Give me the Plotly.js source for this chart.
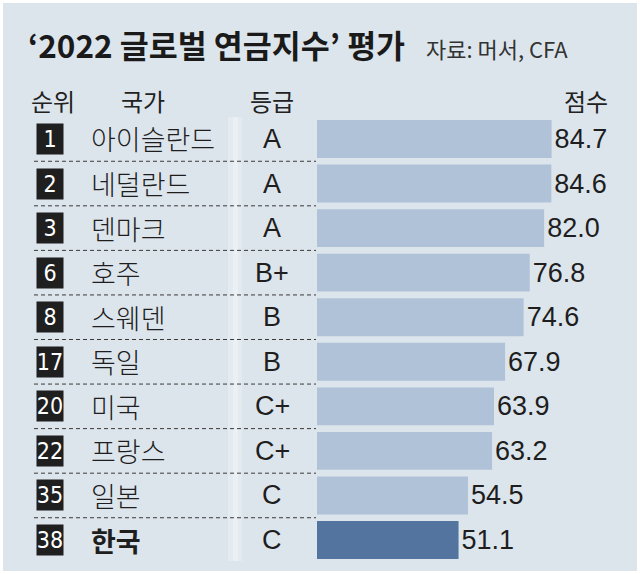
<!DOCTYPE html>
<html><head><meta charset="utf-8">
<script src="https://cdn.plot.ly/plotly-3.0.1.min.js"></script>
<style>html,body{margin:0;padding:0;background:#fff}#chart{width:640px;height:574px}</style>
</head><body><div id="chart"></div>
<script>
const ranks = ["1","2","3","6","8","17","20","22","35","38"];
const countries = ["아이슬란드","네덜란드","덴마크","호주","스웨덴","독일","미국","프랑스","일본","한국"];
const grades = ["A","A","A","B+","B","B","C+","C+","C","C"];
const scores = [84.7,84.6,82.0,76.8,74.6,67.9,63.9,63.2,54.5,51.1];
const highlight = "한국";

const W = 640, H = 574;
const px = v => v / W;
const py = v => 1 - v / H;
const KR = "'Noto Sans CJK KR', 'Noto Sans', sans-serif";
const LAT = "'Liberation Sans', Arial, sans-serif";
const COND = "'DejaVu Sans Condensed', 'Liberation Sans Narrow', 'Liberation Sans', sans-serif";

const barColors = countries.map(c => c === highlight ? "#52749f" : "#afc2d8");

const trace = {
  type: "bar", orientation: "h",
  x: scores, y: countries,
  marker: {color: barColors, line: {width: 0}},
  texttemplate: "%{x:.1f}", textposition: "outside",
  textfont: {family: LAT, size: 27, color: "#1e1e1e"},
  cliponaxis: false, hoverinfo: "none"
};

const shapes = [
  {type: "rect", xref: "paper", yref: "paper", x0: px(3), x1: px(637), y0: py(571), y1: py(3),
   fillcolor: "#dde5ec", line: {width: 0}, layer: "below"},
  {type: "rect", xref: "paper", yref: "paper", x0: px(228), x1: px(233), y0: py(561), y1: py(117),
   fillcolor: "#e4ebf1", line: {width: 0}, layer: "below"},
  {type: "rect", xref: "paper", yref: "paper", x0: px(233), x1: px(238), y0: py(561), y1: py(117),
   fillcolor: "#eaf0f4", line: {width: 0}, layer: "below"},
  {type: "rect", xref: "paper", yref: "paper", x0: px(238), x1: px(242), y0: py(561), y1: py(117),
   fillcolor: "#e3eaf0", line: {width: 0}, layer: "below"}
];
for (let i = 0; i < countries.length - 1; i++) {
  shapes.push({type: "line", xref: "paper", yref: "y", x0: px(34), x1: px(316), y0: i + 0.5, y1: i + 0.5,
    line: {color: "#3a3a3a", width: 1, dash: "4px,3px"}});
}

const annotations = [
  {text: "자료: 머서, CFA", xref: "paper", yref: "paper", x: px(424), y: py(48), xanchor: "left", yanchor: "middle",
   showarrow: false, font: {family: KR, size: 22, color: "#333"}},
  {text: "순위", xref: "paper", yref: "paper", x: px(53), y: py(100), xanchor: "center", yanchor: "middle", showarrow: false, font: {family: KR, size: 24, color: "#222"}},
  {text: "국가", xref: "paper", yref: "paper", x: px(143), y: py(100), xanchor: "center", yanchor: "middle", showarrow: false, font: {family: KR, size: 24, color: "#222"}},
  {text: "등급", xref: "paper", yref: "paper", x: px(272), y: py(100), xanchor: "center", yanchor: "middle", showarrow: false, font: {family: KR, size: 24, color: "#222"}},
  {text: "점수", xref: "paper", yref: "paper", x: px(586), y: py(100), xanchor: "center", yanchor: "middle", showarrow: false, font: {family: KR, size: 24, color: "#222"}}
];
countries.forEach((c, i) => {
  annotations.push({text: ranks[i], xref: "paper", yref: "y", x: px(50), y: c, xanchor: "center", yanchor: "middle",
    showarrow: false, bgcolor: "#1f1f1f", width: 26, height: 30, borderpad: 0,
    font: {family: COND, size: 23, color: "#fff"}});
  annotations.push({text: c === highlight ? "<b>" + c + "</b>" : c, xref: "paper", yref: "y", x: px(89), y: c,
    xanchor: "left", yanchor: "middle", showarrow: false, font: {family: KR, size: 27, weight: 300, color: "#1e1e1e"}});
  annotations.push({text: grades[i], xref: "paper", yref: "y", x: px(272), y: c, xanchor: "center", yanchor: "middle",
    showarrow: false, font: {family: LAT, size: 27, color: "#1e1e1e"}});
});

const layout = {
  width: W, height: H,
  margin: {l: 0, r: 0, t: 0, b: 0},
  paper_bgcolor: "#ffffff", plot_bgcolor: "rgba(0,0,0,0)",
  title: {text: "<b>‘2022 글로벌 연금지수’ 평가</b>", x: px(28), xanchor: "left", y: py(47), yanchor: "middle",
    font: {family: KR, size: 31.5, color: "#1a1a1a"}},
  showlegend: false,
  bargap: 0.15,
  xaxis: {domain: [px(317), px(594)], range: [0, 100], visible: false, fixedrange: true},
  yaxis: {domain: [py(562.3), py(116.7)], type: "category", autorange: "reversed", visible: false, fixedrange: true},
  shapes: shapes, annotations: annotations
};

Plotly.newPlot("chart", [trace], layout, {displayModeBar: false, staticPlot: true});
</script></body></html>
